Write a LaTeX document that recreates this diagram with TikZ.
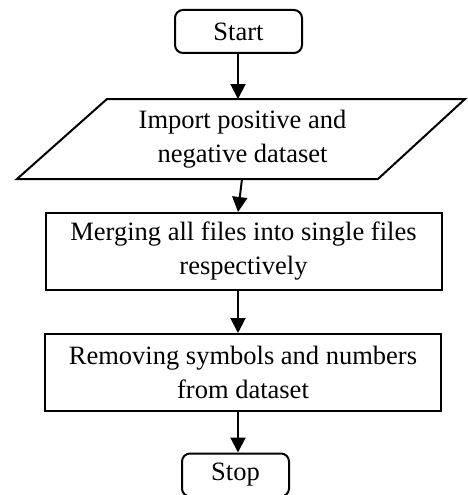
\documentclass[tikz,border=0pt]{standalone}
\usepackage{fontspec}
\setmainfont{Liberation Serif}
\usetikzlibrary{arrows.meta}
\tikzset{
  every node/.style={font=\fontsize{26.5}{34}\selectfont, align=center, inner sep=0pt},
  term/.style={draw, line width=2pt, rounded corners=8pt, minimum width=107pt, minimum height=43pt},
  proc/.style={draw, line width=2pt, minimum width=396pt, minimum height=77pt},
  flow/.style={line width=2pt, -{Triangle[width=15pt,length=15pt]}},
  io/.style={line width=2pt, line join=miter}
}
\begin{document}
\begin{tikzpicture}[x=1pt,y=-1pt]
\useasboundingbox (0,0) rectangle (467,495);
% Start
\node[term, minimum width=127pt] (start) at (238.5,31.5) {Start};
% input/output parallelogram
\coordinate (pTL) at (107,99);
\coordinate (pTR) at (465,99);
\coordinate (pBR) at (378,179);
\coordinate (pBL) at (17,179);
\draw[io] (pTL) -- (pTR) -- (pBR) -- (pBL) -- cycle;
\node (in) at (242.5,139) {Import positive and\\negative dataset};
\coordinate (inTop) at (238,99);
\coordinate (inBot) at (242,179);
% processes
\node[proc] (merge) at (243.5,251.5) {Merging all files into single files\\respectively};
\node[proc] (remove) at (243,372.5) {Removing symbols and numbers\\from dataset};
% Stop
\node[term] (stop) at (235.5,475) {Stop};
% connectors
\draw[flow] (start.south -| inTop) -- (inTop);
\draw[flow] (inBot) -- (merge.north -| inTop);
\draw[flow] (merge.south -| inTop) -- (remove.north -| inTop);
\draw[flow] (remove.south -| inTop) -- (stop.north -| inTop);
\end{tikzpicture}
\end{document}
